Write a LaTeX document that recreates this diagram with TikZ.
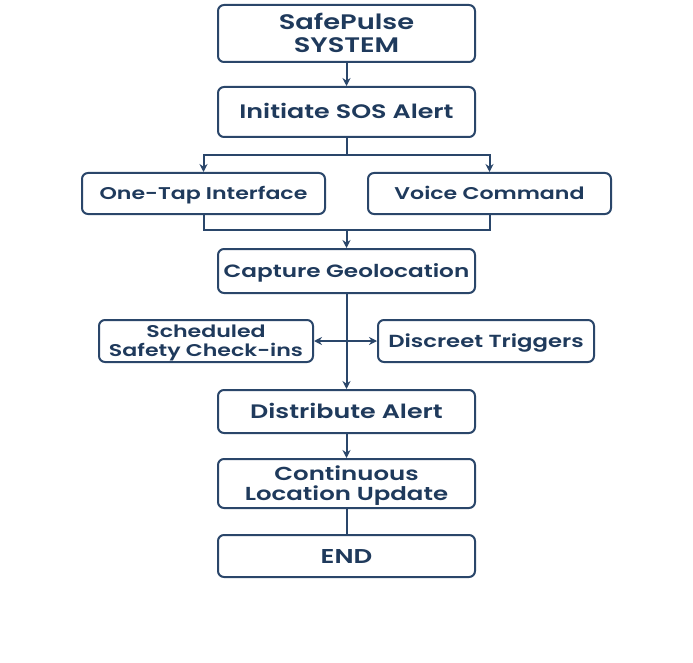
\documentclass[tikz,border=0pt]{standalone}
\usepackage{fontspec}
\setmainfont{Poppins}[BoldFont={Poppins SemiBold},FakeStretch=1.3]
\usetikzlibrary{arrows.meta,positioning}
\definecolor{navy}{HTML}{1F3A5C}
\definecolor{edge}{HTML}{2A466A}
\newcommand{\fsz}[2]{\fontsize{#1}{#2}\selectfont\bfseries}
\begin{document}
\begin{tikzpicture}[x=1pt,y=-1pt,
  box/.style={draw=edge,line width=2pt,rounded corners=6pt,fill=white,
    text=navy,align=center,inner sep=0pt},
  th/.style={text height=#1,text depth=0pt},
  conn/.style={draw=edge,line width=2pt},
  arr/.style={conn,-{Stealth[length=8pt,width=8pt]}},
  darr/.style={conn,{Stealth[length=8pt,width=8pt]}-{Stealth[length=8pt,width=8pt]}}]
\useasboundingbox (0,0) rectangle (693,663);
\node[box,minimum width=257pt,minimum height=57pt,font=\fsz{21}{23},th=37.7pt] (sp) at (346.5,33.5) {SafePulse\\SYSTEM};
\node[box,minimum width=257pt,minimum height=50pt,font=\fsz{19.5}{22},th=13.6pt] (sos) at (346.5,112) {Initiate SOS Alert};
\node[box,minimum width=243pt,minimum height=41pt,font=\fsz{17}{20},th=11.9pt] (tap) at (203.5,193.5) {One-Tap Interface};
\node[box,minimum width=243pt,minimum height=41pt,font=\fsz{17}{20},th=11.9pt] (voice) at (489.5,193.5) {Voice Command};
\node[box,minimum width=257pt,minimum height=44pt,font=\fsz{17.8}{20},th=12.4pt] (geo) at (346.5,271) {Capture Geolocation};
\node[box,minimum width=214pt,minimum height=42pt,font=\fsz{17}{19},th=30.9pt] (sched) at (206,341) {Scheduled\\Safety Check-ins};
\node[box,minimum width=216pt,minimum height=42pt,font=\fsz{17.5}{20},th=12.2pt] (disc) at (486,341) {Discreet Triggers};
\node[box,minimum width=257pt,minimum height=43pt,font=\fsz{19.5}{22},th=13.6pt] (dist) at (346.5,411.5) {Distribute Alert};
\node[box,minimum width=257pt,minimum height=49pt,font=\fsz{18.8}{20},th=33.1pt] (cont) at (346.5,483.5) {Continuous\\Location Update};
\node[box,minimum width=257pt,minimum height=42pt,font=\fsz{20}{22},th=14pt] (end) at (346.5,556) {END};
\coordinate (split) at (346.5,155);
\coordinate (join) at (346.5,230);
\draw[arr] (sp) -- (sos);
\draw[conn] (sos) -- (split);
\draw[arr] (split) -| (tap.north);
\draw[arr] (split) -| (voice.north);
\draw[conn] (tap.south) |- (join);
\draw[conn] (voice.south) |- (join);
\draw[arr] (join) -- (geo);
\draw[arr] (geo) -- (dist);
\draw[darr] (sched) -- (disc);
\draw[arr] (dist) -- (cont);
\draw[conn] (cont) -- (end);
\end{tikzpicture}
\end{document}
